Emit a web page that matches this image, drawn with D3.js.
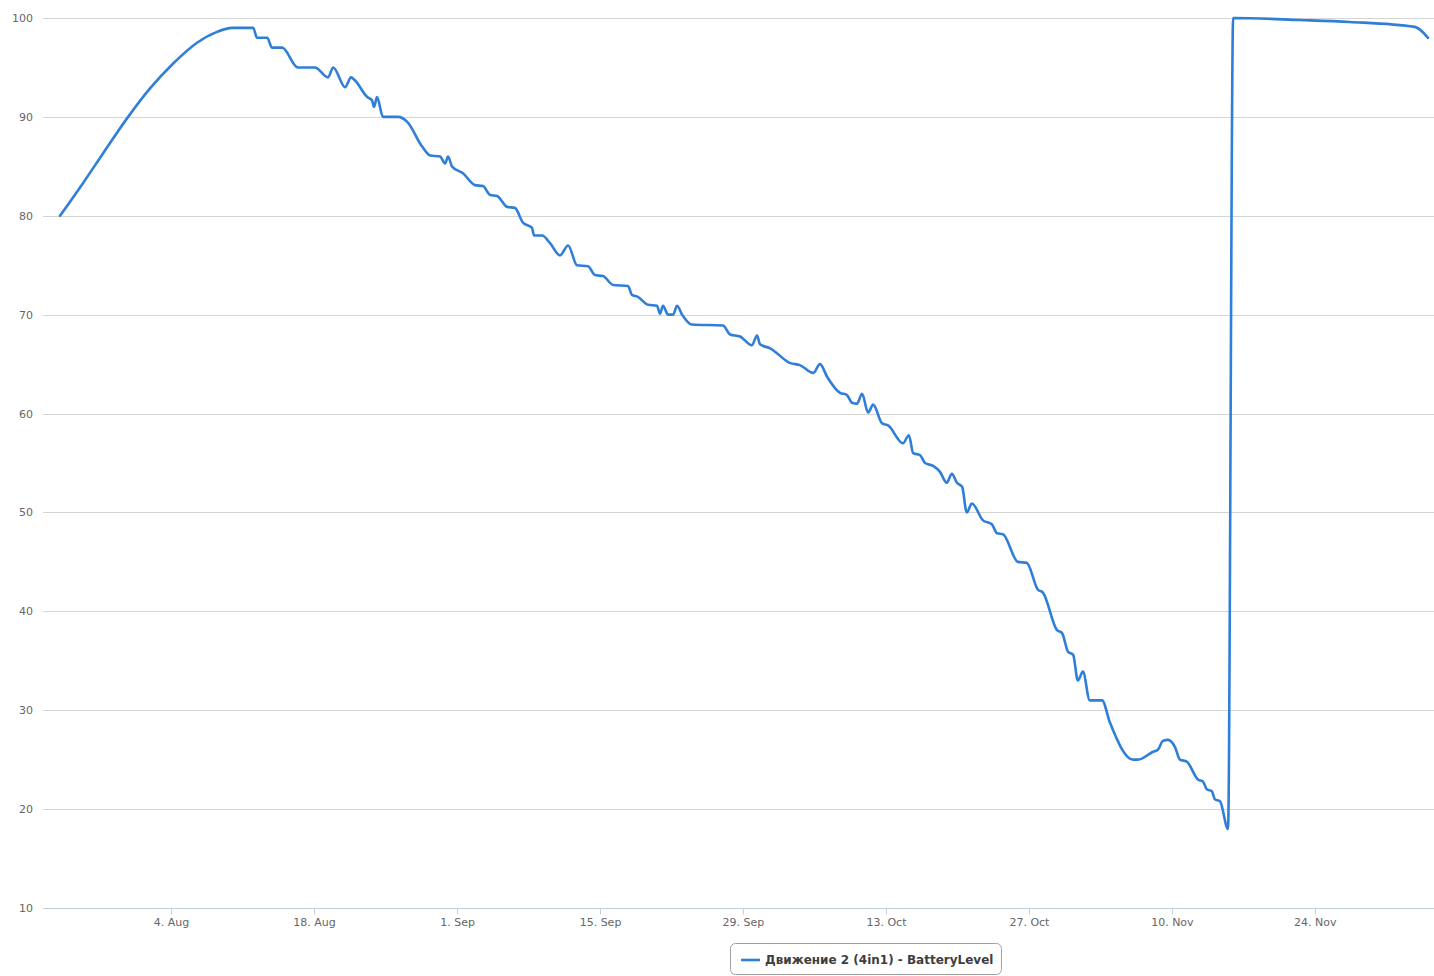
<!DOCTYPE html>
<html>
<head>
<meta charset="utf-8">
<script src="https://cdn.jsdelivr.net/npm/d3@7"></script>
<style>
  html, body { margin: 0; padding: 0; background: #ffffff; }
  svg { display: block; }
</style>
</head>
<body>
<svg id="chart" width="1434" height="976"></svg>
<script>
// ---- data ----
const seriesName = "Движение 2 (4in1) - BatteryLevel";
const timestamps = [
  "2014-07-24 03","2014-07-26 09","2014-07-28 08","2014-07-30 19","2014-08-01 23","2014-08-04 05",
  "2014-08-06 13","2014-08-08 12","2014-08-09 23","2014-08-10 18","2014-08-12 01","2014-08-12 10","2014-08-13 10",
  "2014-08-13 21","2014-08-14 21","2014-08-16 10","2014-08-18 02","2014-08-19 09","2014-08-19 21",
  "2014-08-21 01","2014-08-21 15","2014-08-22 00","2014-08-23 05","2014-08-23 16","2014-08-23 21",
  "2014-08-24 04","2014-08-24 18","2014-08-26 05","2014-08-27 03","2014-08-28 14","2014-08-29 09",
  "2014-08-30 08","2014-08-30 20","2014-08-31 03","2014-08-31 12","2014-09-01 14","2014-09-02 18",
  "2014-09-03 13","2014-09-04 06","2014-09-04 22","2014-09-05 22","2014-09-06 16","2014-09-07 11",
  "2014-09-08 08","2014-09-08 13","2014-09-09 08","2014-09-10 03","2014-09-11 02","2014-09-11 21",
  "2014-09-12 18","2014-09-13 20","2014-09-14 12","2014-09-15 07","2014-09-16 07","2014-09-17 18",
  "2014-09-18 03","2014-09-18 17","2014-09-19 17","2014-09-20 14","2014-09-20 21","2014-09-21 04",
  "2014-09-21 16","2014-09-22 04","2014-09-22 13","2014-09-23 01","2014-09-24 00","2014-09-27 01",
  "2014-09-27 18","2014-09-28 17","2014-09-29 21","2014-09-30 09","2014-09-30 16","2014-10-01 16",
  "2014-10-03 15","2014-10-04 14","2014-10-05 21","2014-10-06 13","2014-10-07 06","2014-10-08 12",
  "2014-10-09 04","2014-10-09 16","2014-10-10 04","2014-10-10 16","2014-10-11 06","2014-10-11 18",
  "2014-10-12 15","2014-10-13 05","2014-10-14 16","2014-10-15 06","2014-10-15 16","2014-10-16 08",
  "2014-10-16 20","2014-10-17 15","2014-10-18 07","2014-10-18 23","2014-10-19 11","2014-10-19 23",
  "2014-10-20 11","2014-10-20 22","2014-10-21 10","2014-10-22 12","2014-10-23 09","2014-10-23 21",
  "2014-10-24 11","2014-10-25 22","2014-10-26 19","2014-10-27 21","2014-10-28 09","2014-10-29 18",
  "2014-10-30 06","2014-10-30 20","2014-10-31 08","2014-10-31 19","2014-11-01 07","2014-11-01 23",
  "2014-11-03 04","2014-11-03 22","2014-11-06 05","2014-11-06 16","2014-11-08 04","2014-11-08 15",
  "2014-11-09 03","2014-11-09 15","2014-11-10 07","2014-11-10 19","2014-11-11 11","2014-11-12 13",
  "2014-11-13 01","2014-11-13 10","2014-11-13 22","2014-11-14 05","2014-11-14 17","2014-11-15 12",
  "2014-11-16 00","2014-11-22 13","2014-11-27 10","2014-12-03 19","2014-12-05 02"
];
const batteryLevel = [
  80, 83.3, 86.3, 90, 92.9, 95.4,
  97.5, 98.6, 99, 99, 99, 98, 98,
  97, 97, 95, 95, 94, 95,
  93, 94, 93.7, 92, 91.7, 91,
  92, 90, 90, 89.5, 87, 86.1,
  86, 85.3, 86, 85, 84.3, 83.1,
  83, 82.1, 82, 80.9, 80.8, 79.3,
  78.8, 78, 78, 77.2, 76, 77,
  75, 74.9, 74, 73.9, 73, 72.9,
  72, 71.8, 71, 70.9, 70.1, 70.9,
  70, 70, 70.9, 70, 69, 68.9,
  68, 67.8, 66.9, 67.9, 67, 66.6,
  65.1, 64.9, 64.1, 65, 63.7, 62.1,
  61.9, 61.1, 61, 62, 60.1, 60.9,
  59, 58.8, 57, 57.8, 56, 55.8,
  55, 54.7, 54.1, 53, 53.9, 53,
  52.6, 50, 50.9, 49.2, 48.8, 47.9,
  47.8, 45, 44.9, 42.2, 41.9, 38.1,
  37.8, 35.9, 35.6, 33, 33.9, 31,
  31, 28.8, 25, 25, 25.8, 26,
  26.9, 27, 26.3, 25, 24.8, 23,
  22.8, 22, 21.8, 21, 20.8, 18,
  100, 99.8, 99.6, 99.1, 98
];
const xTickLabels = ["2014-08-04","2014-08-18","2014-09-01","2014-09-15","2014-09-29","2014-10-13","2014-10-27","2014-11-10","2014-11-24"];
const yTicks = [10, 20, 30, 40, 50, 60, 70, 80, 90, 100];
const xDomain = ["2014-07-22 11", "2014-12-05 16"];

// ---- drawing ----
const parseTs = d3.timeParse("%Y-%m-%d %H");
const parseDay = d3.timeParse("%Y-%m-%d");
const data = timestamps.map((t, i) => ({ t: parseTs(t), v: batteryLevel[i] }));

const plot = { left: 43, right: 1434, top: 18, bottom: 908 };
const svg = d3.select("#chart");
const font = "'DejaVu Sans', Verdana, sans-serif";

const x = d3.scaleTime().domain(xDomain.map(parseTs)).range([plot.left, plot.right]);
const y = d3.scaleLinear().domain([10, 100]).range([plot.bottom, plot.top]);

// grid lines
svg.append("g").selectAll("line").data(yTicks.filter(v => v !== 10)).join("line")
  .attr("x1", plot.left).attr("x2", plot.right)
  .attr("y1", d => Math.round(y(d)) + 0.5).attr("y2", d => Math.round(y(d)) + 0.5)
  .attr("stroke", "#d4d4d4").attr("stroke-width", 1.2);

// y axis labels
const yAxis = d3.axisLeft(y).tickValues(yTicks).tickSize(0).tickPadding(10).tickFormat(d3.format("d"));
const gy = svg.append("g").attr("transform", `translate(${plot.left},0)`).call(yAxis);
gy.select(".domain").remove();
gy.selectAll("text").attr("fill", "#666").style("font-family", font).style("font-size", "11px");

// x axis
const xAxis = d3.axisBottom(x).tickValues(xTickLabels.map(parseDay))
  .tickFormat(d3.timeFormat("%-d. %b")).tickSize(6).tickPadding(4);
const gx = svg.append("g").attr("transform", `translate(0,${Math.round(plot.bottom) + 0.5})`).call(xAxis);
gx.select(".domain").attr("d", `M${plot.left},0H${plot.right}`).attr("stroke", "#c0d0e0").attr("stroke-width", 1.2);
gx.selectAll(".tick line").attr("stroke", "#c0d0e0");
gx.selectAll("text").attr("fill", "#666").style("font-family", font).style("font-size", "11px");

// series line
const line = d3.line().x(d => x(d.t)).y(d => y(d.v)).curve(d3.curveMonotoneX);
svg.append("path").datum(data)
  .attr("d", line)
  .attr("fill", "none")
  .attr("stroke", "#2f7ed8")
  .attr("stroke-width", 2.6)
  .attr("stroke-linejoin", "round")
  .attr("stroke-linecap", "round");

// legend
const legend = svg.append("g");
const legText = legend.append("text")
  .attr("x", 765).attr("y", 964)
  .attr("fill", "#3e3e3e")
  .style("font-family", font).style("font-size", "12px").style("font-weight", "bold")
  .text(seriesName);
const bb = legText.node().getBBox();
legend.insert("rect", "text")
  .attr("x", 730.5).attr("y", 943.5)
  .attr("width", bb.x + bb.width + 8 - 730.5).attr("height", 31)
  .attr("rx", 5).attr("ry", 5)
  .attr("fill", "#fff").attr("stroke", "#a0a0a0").attr("stroke-width", 1);
legend.append("line")
  .attr("x1", 741).attr("x2", 760).attr("y1", 960).attr("y2", 960)
  .attr("stroke", "#2f7ed8").attr("stroke-width", 2.6);
</script>
</body>
</html>
